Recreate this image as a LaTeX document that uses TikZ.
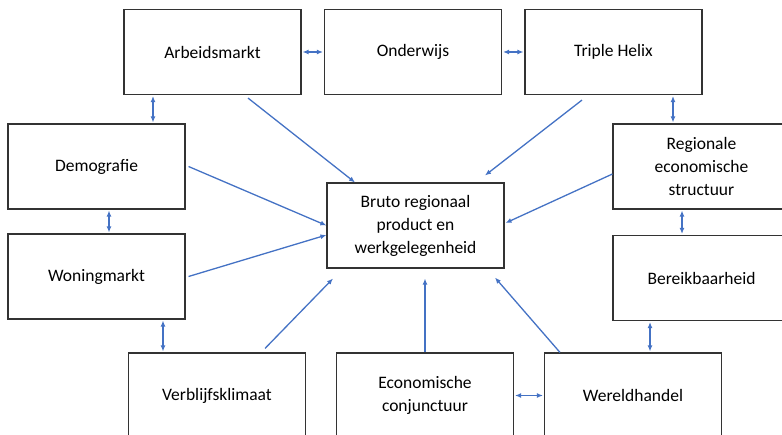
\documentclass[tikz,border=0pt]{standalone}
\usepackage{fontspec}
\setmainfont{Carlito}
\usepackage{tikz}
\usetikzlibrary{arrows.meta}

\definecolor{linkblue}{HTML}{4472C4}

\begin{document}
\begin{tikzpicture}[x=1pt, y=-1pt,
  box/.style={draw=black!80, line width=1.1pt, minimum width=177pt, minimum height=85pt,
    align=center, font=\fontsize{17.5}{23}\selectfont, text=black, inner sep=0pt},
  flow/.style={draw=linkblue, line width=1.3pt, -{Latex[length=6pt,width=5pt]}},
  both/.style={draw=linkblue, line width=1.3pt, {Latex[length=6pt,width=5pt]}-{Latex[length=6pt,width=5pt]}, shorten <=1pt, shorten >=1pt}]

\useasboundingbox (0,0) rectangle (782,435);

\node[box] (arbeid) at (212.5,52) {Arbeidsmarkt};
\node[box] (onderwijs) at (413,52) {Onderwijs};
\node[box] (triple) at (613.5,52) {Triple Helix};
\node[box] (demo) at (96.5,166.5) {Demografie};
\node[box] (woning) at (96.5,276.5) {Woningmarkt};
\node[box] (bruto) at (415.5,225.5) {Bruto regionaal\\product en\\werkgelegenheid};
\node[box] (regio) at (701.5,166.5) {Regionale\\economische\\structuur};
\node[box] (bereik) at (701.5,278) {Bereikbaarheid};
\node[box] (verblijf) at (217,395.5) {Verblijfsklimaat};
\node[box] (conj) at (425,395.5) {Economische\\conjunctuur};
\node[box] (wereld) at (633,395.5) {Wereldhandel};

% wederzijdse relaties
\draw[both] (arbeid.east) -- (onderwijs.west);
\draw[both] (onderwijs.east) -- (triple.west);
\draw[both] ([xshift=-59.5pt]arbeid.south) -- ([xshift=-59.5pt]arbeid.south |- demo.north);
\draw[both] ([xshift=12.5pt]demo.south) -- ([xshift=12.5pt]demo.south |- woning.north);
\draw[both] ([xshift=66.5pt]woning.south) -- ([xshift=66.5pt]woning.south |- verblijf.north);
\draw[both] ([xshift=59.5pt]triple.south) -- ([xshift=59.5pt]triple.south |- regio.north);
\draw[both] ([xshift=-19.5pt]regio.south) -- ([xshift=-19.5pt]regio.south |- bereik.north);
\draw[both] ([xshift=-51.5pt]bereik.south) -- ([xshift=-51.5pt]bereik.south |- wereld.north);
\draw[both] (conj.east) -- (wereld.west);

% invloed op bruto regionaal product
\draw[flow] ([xshift=35.5pt,yshift=-3pt]arbeid.south) -- ([xshift=-60.5pt]bruto.north);
\draw[flow] ([xshift=-31.5pt,yshift=-5pt]triple.south) -- ([xshift=69.5pt,yshift=7pt]bruto.north);
\draw[flow] ([xshift=3pt]demo.east) -- (bruto.west);
\draw[flow] ([xshift=3pt]woning.east) -- ([yshift=-9.5pt]bruto.west);
\draw[flow] ([yshift=-7.5pt]regio.west) -- ([xshift=1pt,yshift=2.5pt]bruto.east);
\draw[flow] ([xshift=48pt,yshift=4pt]verblijf.north) -- ([xshift=-82.5pt,yshift=-10pt]bruto.south);
\draw[flow] (conj.north) -- ([yshift=-10pt]conj.north |- bruto.south);
\draw[flow] ([xshift=-73pt]wereld.north) -- ([xshift=79.5pt,yshift=-9pt]bruto.south);

\end{tikzpicture}
\end{document}
